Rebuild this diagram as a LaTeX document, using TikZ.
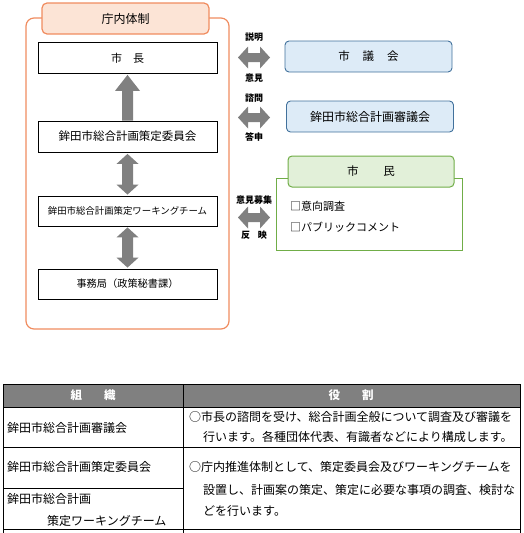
\documentclass[tikz,border=0pt]{standalone}
\usepackage{fontspec}
\setmainfont{Noto Sans CJK JP}
\usetikzlibrary{calc}
\definecolor{orangeb}{RGB}{240,140,95}
\definecolor{orangef}{RGB}{252,228,214}
\definecolor{blueb}{RGB}{65,113,156}
\definecolor{bluef}{RGB}{221,235,247}
\definecolor{greenb}{RGB}{112,173,71}
\definecolor{greenf}{RGB}{226,240,217}
\definecolor{fatgray}{RGB}{128,128,128}
\newcommand\dblarrowH[2]{\fill[fat] (#1) -- ($(#1)+(10,-11)$) -- ($(#1)+(10,-4.5)$) -- ($(#2)+(-10,-4.5)$) -- ($(#2)+(-10,-11)$) -- (#2) -- ($(#2)+(-10,11)$) -- ($(#2)+(-10,4.5)$) -- ($(#1)+(10,4.5)$) -- ($(#1)+(10,11)$) -- cycle;}
\newcommand\dblarrowV[2]{\fill[fat] (#1) -- ($(#1)+(11,10)$) -- ($(#1)+(5.5,10)$) -- ($(#2)+(5.5,-10)$) -- ($(#2)+(11,-10)$) -- (#2) -- ($(#2)+(-11,-10)$) -- ($(#2)+(-5.5,-10)$) -- ($(#1)+(-5.5,10)$) -- ($(#1)+(-11,10)$) -- cycle;}
\begin{document}
\begin{tikzpicture}[x=1pt,y=-1pt,
  fat/.style={fill=fatgray},
  box/.style={draw=black, line width=0.8pt, minimum width=179pt, minimum height=31pt, inner sep=0pt},
  rbox/.style={draw=blueb, fill=bluef, line width=0.9pt, rounded corners=4pt, minimum width=167pt, minimum height=31pt, inner sep=0pt, font=\fontsize{11.5}{13}\selectfont},
  lab/.style={inner sep=0pt, font=\fontsize{9}{10}\selectfont\bfseries},
  cell/.style={inner sep=0pt, anchor=west, font=\fontsize{12}{14}\selectfont},
  tline/.style={draw=black, line width=0.8pt}]
\useasboundingbox (0,0) rectangle (523,533);
% --- internal structure
\node[draw=orangeb, line width=1.2pt, rounded corners=8pt, minimum width=203pt, minimum height=311pt, inner sep=0pt] (outer) at (127.5,173.5) {};
\node[draw=orangeb, fill=orangef, line width=1.2pt, rounded corners=5pt, minimum width=167pt, minimum height=31pt, inner sep=0pt, font=\fontsize{12}{14}\selectfont] (title) at (125.5,18.5) {庁内体制};
\node[box, font=\fontsize{11}{13}\selectfont] (chou) at (127.5,58) {市　長};
\node[box, font=\fontsize{11.5}{13}\selectfont] (iin) at (127.5,136.5) {鉾田市総合計画策定委員会};
\node[box, minimum height=30pt, font=\fontsize{9.4}{11}\selectfont] (wt) at (127.5,211) {鉾田市総合計画策定ワーキングチーム};
\node[box, minimum height=30pt, font=\fontsize{10.2}{12}\selectfont] (jimu) at (127.5,284) {事務局（政策秘書課）};
% vertical arrows
\fill[fat] ($(chou.south)+(0,1)$) -- ($(chou.south)+(12.5,17)$) -- ($(chou.south)+(5.5,17)$) -- ($(iin.north)+(5.5,0)$) -- ($(iin.north)+(-5.5,0)$) -- ($(chou.south)+(-5.5,17)$) -- ($(chou.south)+(-12.5,17)$) -- cycle;
\coordinate (a1) at ($(iin.south)+(0,1.5)$);
\coordinate (a2) at ($(wt.north)+(0,-1)$);
\dblarrowV{a1}{a2}
\coordinate (a3) at ($(wt.south)+(0,1)$);
\coordinate (a4) at ($(jimu.north)+(0,-1)$);
\dblarrowV{a3}{a4}
% --- right side
\node[rbox] (gikai) at (368.5,56.5) {市\hspace{13pt}議\hspace{13pt}会};
\node[rbox, font=\fontsize{12}{14}\selectfont] (shingi) at (370,116.5) {鉾田市総合計画審議会};
\node[draw=greenb, line width=1pt, minimum width=186pt, minimum height=72pt, inner sep=0pt] (frame) at (369,214) {};
\node[draw=greenb, fill=greenf, line width=1pt, rounded corners=4pt, minimum width=166pt, minimum height=31pt, inner sep=0pt, font=\fontsize{11.5}{13}\selectfont] (shimin) at (371,171.5) {市\hspace{25pt}民};
\node[cell, font=\fontsize{11}{13}\selectfont] (item1) at (290,206) {□意向調査};
\node[cell, font=\fontsize{11}{13}\selectfont] (item2) at (290,227) {□パブリックコメント};
% horizontal arrows
\coordinate (h1a) at (238,57.5);
\coordinate (h1b) at (270,57.5);
\dblarrowH{h1a}{h1b}
\coordinate (h2a) at (238,117.5);
\coordinate (h2b) at (270,117.5);
\dblarrowH{h2a}{h2b}
\coordinate (h3a) at (238,217.5);
\coordinate (h3b) at (270,217.5);
\dblarrowH{h3a}{h3b}
\node[lab] (l1) at (254,37) {説明};
\node[lab] (l2) at (254,78) {意見};
\node[lab] (l3) at (254,98) {諮問};
\node[lab] (l4) at (254,137) {答申};
\node[lab] (l5) at (254,200) {意見募集};
\node[lab] (l6) at (254,235) {反\hspace{8pt}映};
% --- table
\fill[fatgray] (3,384) rectangle (520,407);
\draw[tline] (3,384) -- (520,384);
\draw[tline] (3,407) -- (520,407);
\draw[tline] (3,447) -- (520,447);
\draw[tline] (3,488) -- (183,488);
\draw[tline] (3,529) -- (520,529);
\draw[tline] (3,384) -- (3,533);
\draw[tline] (183,384) -- (183,533);
\draw[tline] (520,384) -- (520,533);
\node[inner sep=0pt, text=white, font=\fontsize{11.5}{13}\selectfont\bfseries] (h1) at (93,395.5) {組\hspace{22pt}織};
\node[inner sep=0pt, text=white, font=\fontsize{11.5}{13}\selectfont\bfseries] (h2) at (351,395.5) {役\hspace{22pt}割};
\node[cell] (c1) at (7,428) {鉾田市総合計画審議会};
\node[cell] (c2) at (7,467) {鉾田市総合計画策定委員会};
\node[cell] (c3) at (7,499) {鉾田市総合計画};
\node[cell] (c4) at (47,521) {策定ワーキングチーム};
\node[cell] (r1) at (189,417) {○市長の諮問を受け、総合計画全般について調査及び審議を};
\node[cell] (r2) at (203,437) {行います。各種団体代表、有識者などにより構成します。};
\node[cell] (r3) at (189,467) {○庁内推進体制として、策定委員会及びワーキングチームを};
\node[cell] (r4) at (203,490) {設置し、計画案の策定、策定に必要な事項の調査、検討な};
\node[cell] (r5) at (203,511) {どを行います。};
\end{tikzpicture}
\end{document}
